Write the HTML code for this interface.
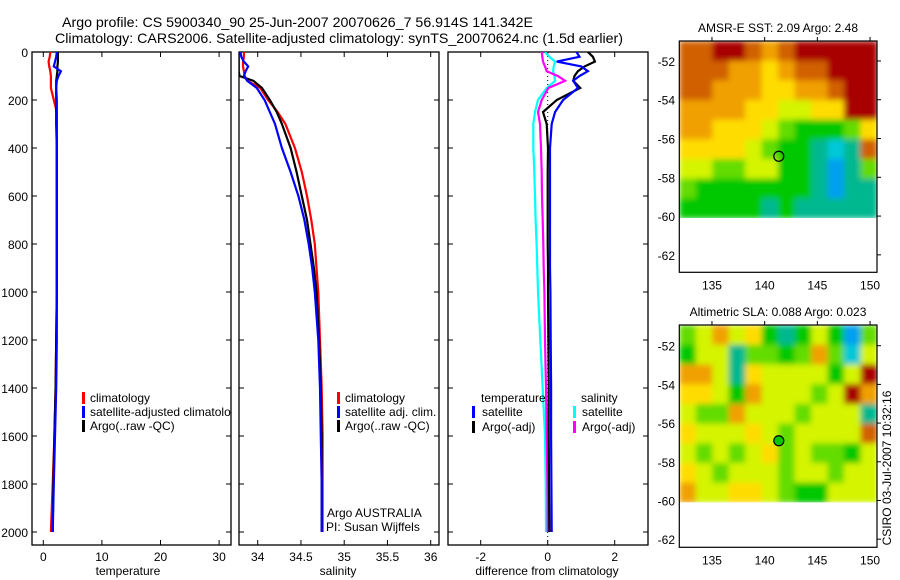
<!DOCTYPE html>
<html><head><meta charset="utf-8"><style>
html,body{margin:0;padding:0;background:#fff;}
svg{display:block;font-family:"Liberation Sans",sans-serif;}
</style></head><body>
<svg id="fig" width="900" height="580" viewBox="0 0 900 580" xmlns="http://www.w3.org/2000/svg">
<text x="62" y="27" font-size="14" textLength="471" lengthAdjust="spacingAndGlyphs">Argo profile: CS 5900340_90 25-Jun-2007 20070626_7 56.914S 141.342E</text>
<text x="55" y="43" font-size="14" textLength="568" lengthAdjust="spacingAndGlyphs">Climatology: CARS2006. Satellite-adjusted climatology: synTS_20070624.nc (1.5d earlier)</text>
<g id="g"></g>
</svg>
<script>
// ---------- DATA ----------
const depths = [0,20,40,60,80,100,120,150,200,250,300,400,500,600,700,800,900,1000,1200,1400,1600,1800,2000];
const tempClim = [1.2,1.1,0.9,1.0,1.2,1.3,1.3,1.3,1.8,2.3,2.3,2.3,2.3,2.3,2.3,2.3,2.3,2.3,2.2,2.1,1.9,1.6,1.3];
const tempSat  = [2.3,2.2,2.0,1.8,3.0,2.6,2.3,2.2,2.3,2.3,2.3,2.3,2.3,2.3,2.3,2.3,2.3,2.3,2.3,2.2,2.0,1.8,1.6];
const tempArgo = [2.5,2.5,2.5,2.4,2.4,2.3,2.2,2.2,2.2,2.2,2.2,2.3,2.3,2.3,2.3,2.3,2.3,2.3,2.2,2.1,1.9,1.7,1.6];
const salClim = [33.84,33.84,33.83,33.83,33.84,33.85,33.88,34.03,34.12,34.23,34.32,34.43,34.51,34.57,34.62,34.66,34.68,34.70,34.72,34.74,34.75,34.75,34.75];
const salSat  = [33.80,33.81,33.84,33.89,33.86,33.84,33.88,33.99,34.08,34.14,34.20,34.28,34.38,34.47,34.54,34.59,34.63,34.66,34.70,34.72,34.73,34.74,34.74];
const salArgo = [33.78,33.78,33.78,33.78,33.78,33.79,33.95,34.05,34.14,34.22,34.28,34.38,34.45,34.51,34.57,34.61,34.65,34.68,34.71,34.73,34.74,34.74,34.74];
const dTsat  = [0.86,0.95,0.27,1.00,1.20,0.95,0.76,0.90,0.46,0.22,0.12,0.07,0.07,0.07,0.07,0.07,0.07,0.08,0.09,0.10,0.10,0.11,0.12];
const dTargo = [1.20,1.35,1.41,1.10,0.90,0.80,0.76,0.97,0.27,-0.14,-0.03,0.01,0.00,0.00,0.00,0.00,0.01,0.01,0.02,0.03,0.03,0.04,0.05];
const dSsat  = [-0.08,0.05,0.22,0.18,0.16,0.20,0.22,-0.03,-0.29,-0.38,-0.43,-0.43,-0.40,-0.38,-0.36,-0.33,-0.31,-0.29,-0.22,-0.15,-0.08,-0.06,-0.05];
const dSargo = [-0.18,-0.16,-0.14,-0.08,-0.03,0.30,0.52,0.02,-0.18,-0.29,-0.23,-0.20,-0.18,-0.17,-0.15,-0.13,-0.12,-0.10,-0.08,-0.05,-0.03,-0.01,0.00];
const depthTicks = [0,200,400,600,800,1000,1200,1400,1600,1800,2000];
const tempTicks = [0,10,20,30];
const salTicks = [34,34.5,35,35.5,36];
const salTickLabels = ["34","34.5","35","35.5","36"];
const diffTicks = [-2,0,2];
const lonTicks = [135,140,145,150];
const latTicks = [-52,-54,-56,-58,-60,-62];
const argoLon = 141.342, argoLat = -56.914;
// map grids (colour index 0..10), rows north->south from -51 to -60.1
const sstGrid = [
[9,9,10,10,9,8,9,10,10,10,10,10],
[9,9,9,8,8,7,8,9,9,10,10,10],
[9,9,8,8,8,7,7,8,8,9,10,10],
[8,8,8,8,7,7,6,6,7,7,10,10],
[8,8,7,7,7,6,5,4,4,4,5,7],
[7,7,7,7,6,5,4,4,3,2,3,9],
[6,6,5,5,6,6,4,4,3,1,3,5],
[5,4,4,4,4,4,4,4,3,1,3,3],
[4,4,4,4,4,3,4,3,3,3,3,3]];
const slaGrid = [
[5,6,8,6,7,4,3,4,6,4,1,5],
[4,6,6,3,5,5,4,5,8,5,2,6],
[8,8,6,3,7,6,6,6,6,4,6,10],
[7,7,6,4,8,6,6,6,5,6,10,8],
[6,5,5,8,6,6,6,5,6,6,6,3],
[7,6,6,6,7,6,5,6,6,6,6,9],
[6,5,6,5,6,7,5,6,5,5,4,6],
[7,6,5,6,6,6,5,6,6,5,6,6],
[8,6,6,7,7,6,5,4,4,6,6,6]];
const palette = ["#0080ff","#00a0f0","#00c8d8","#00b890","#00c800","#64dc00","#d4f400","#ffdc00","#f0a000","#d06000","#a80000"];

// ---------- HELPERS ----------
const NS="http://www.w3.org/2000/svg";
const G=document.getElementById('g');
function mk(tag,attrs,parent){const e=document.createElementNS(NS,tag);for(const k in attrs)e.setAttribute(k,attrs[k]);(parent||G).appendChild(e);return e;}
const yD = d => 52 + d*0.24;
const PT=52, PB=545;
function panel(name,x0,x1){
  const r=mk('rect',{x:x0,y:PT,width:x1-x0,height:PB-PT,fill:'#fff',stroke:'#000','stroke-width':1.3});
  
  
  depthTicks.forEach(d=>{mk('line',{x1:x0,x2:x0+5,y1:yD(d),y2:yD(d),stroke:'#000'});mk('line',{x1:x1-5,x2:x1,y1:yD(d),y2:yD(d),stroke:'#000'});});
}
function xTicks(xs,fx,labels){
  xs.forEach((v,i)=>{const x=fx(v);mk('line',{x1:x,x2:x,y1:PT,y2:PT+5,stroke:'#000'});mk('line',{x1:x,x2:x,y1:PB-5,y2:PB,stroke:'#000'});
    const t=mk('text',{x:x,y:561,'font-size':12,'text-anchor':'middle'});t.textContent=labels[i];
    
    });
}
function line(vals,fx,color,name,clipId){
  const pts=vals.map((v,i)=>fx(v).toFixed(1)+','+yD(depths[i]).toFixed(1)).join(' ');
  const p=mk('polyline',{points:pts,fill:'none',stroke:color,'stroke-width':2.2});
  if(clipId)p.setAttribute('clip-path','url(#'+clipId+')');
  
  
}
function txt(s,x,y,name,extra){const t=mk('text',Object.assign({x:x,y:y,'font-size':12},extra||{}));t.textContent=s;
  
  return t;}
function legBar(x,y,color,name){const r=mk('rect',{x:x,y:y-10,width:3,height:12,fill:color});
  
  }

// clip for panels
const defs=mk('defs',{});
[['c1',32,231],['c2',239,439],['c3',448,648]].forEach(c=>{const cp=mk('clipPath',{id:c[0]},defs);mk('rect',{x:c[1],y:PT,width:c[2]-c[1],height:PB-PT},cp);});
const flt=mk('filter',{id:'smooth',x:'-5%',y:'-5%',width:'110%',height:'110%'},defs);
mk('feGaussianBlur',{stdDeviation:3,edgeMode:'duplicate'},flt);

// ---------- PANEL 1: temperature ----------
const fT = v => 43.3 + v*5.86;
panel('temperature-panel',32,231);
depthTicks.forEach(d=>{txt(String(d),28,yD(d)+5,'y-tick-label',{'text-anchor':'end'});});
xTicks(tempTicks,fT,tempTicks.map(String));
line(tempClim,fT,'#ff0000','temp-climatology-line','c1');
line(tempArgo,fT,'#000000','temp-argo-line','c1');
line(tempSat,fT,'#0000ff','temp-satellite-line','c1');
legBar(82,402,'#ff0000','legend-climatology-swatch');txt('climatology',90,402,'legend-climatology');
legBar(82,416,'#0000ff','legend-satellite-swatch');
const lt=txt('satellite-adjusted climatology',90,416,'legend-satellite-adjusted');lt.setAttribute('clip-path','url(#c1)');
legBar(82,430,'#000000','legend-argo-swatch');txt('Argo(..raw -QC)',90,430,'legend-argo');
txt('temperature',128,575,'x-axis-title-temperature',{'text-anchor':'middle'});

// ---------- PANEL 2: salinity ----------
const fS = v => 257.7 + (v-34)*86.5;
panel('salinity-panel',239,439);
xTicks(salTicks,fS,salTickLabels);
line(salClim,fS,'#ff0000','sal-climatology-line','c2');
line(salArgo,fS,'#000000','sal-argo-line','c2');
line(salSat,fS,'#0000ff','sal-satellite-line','c2');
legBar(337,402,'#ff0000','legend-sal-climatology-swatch');txt('climatology',345,402,'legend-sal-climatology');
legBar(337,416,'#0000ff','legend-sal-satellite-swatch');txt('satellite adj. clim.',345,416,'legend-sal-satellite');
legBar(337,430,'#000000','legend-sal-argo-swatch');txt('Argo(..raw -QC)',345,430,'legend-sal-argo');
txt('Argo AUSTRALIA',327,517,'credit-argo-australia');
txt('PI: Susan Wijffels',326,531,'credit-pi');
txt('salinity',338,575,'x-axis-title-salinity',{'text-anchor':'middle'});

// ---------- PANEL 3: differences ----------
const fD = v => 547.7 + v*33.5;
panel('difference-panel',448,648);
xTicks(diffTicks,fD,diffTicks.map(String));
const zl=mk('line',{x1:fD(0),x2:fD(0),y1:PT,y2:PB,stroke:'#000','stroke-dasharray':'1,3'});


line(dSsat,fD,'#00ffff','diff-sal-satellite-line','c3');
line(dSargo,fD,'#ff00ff','diff-sal-argo-line','c3');
line(dTargo,fD,'#000000','diff-temp-argo-line','c3');
line(dTsat,fD,'#0000ff','diff-temp-satellite-line','c3');
txt('temperature',481,402,'legend-temperature-heading');
legBar(472,416,'#0000ff','legend-dt-satellite-swatch');txt('satellite',482,416,'legend-dt-satellite');
legBar(472,431,'#000000','legend-dt-argo-swatch');txt('Argo(-adj)',482,431,'legend-dt-argo');
txt('salinity',581,402,'legend-salinity-heading');
legBar(573,416,'#00ffff','legend-ds-satellite-swatch');txt('satellite',582,416,'legend-ds-satellite');
legBar(573,431,'#ff00ff','legend-ds-argo-swatch');txt('Argo(-adj)',582,431,'legend-ds-argo');
txt('difference from climatology',547,575,'x-axis-title-difference',{'text-anchor':'middle'});

// ---------- MAPS ----------
function map(name,grid,top,bottom,latTop,latBot,title,titleY){
  const L=679.3,R=877, lonL=131.9, lonR=150.66;
  const fx=lon=>L+(lon-lonL)*(R-L)/(lonR-lonL);
  const fy=lat=>top+(latTop-lat)*(bottom-top)/(latTop-latBot);
  const rows=grid.length, cols=grid[0].length;
  const latS=-60.1, latN=latTop;
  const cw=(lonR-lonL)/cols, ch=(latN-latS)/rows;
  const cp=mk('clipPath',{id:name+'-clip'},defs);
  mk('rect',{x:L,y:top,width:R-L,height:fy(latS)-top},cp);
  const outer=mk('g',{'clip-path':'url(#'+name+'-clip)'});
  const inner=mk('g',{filter:'url(#smooth)'},outer);
  
  
  grid.forEach((row,i)=>row.forEach((v,j)=>{
    const x=fx(lonL+j*cw), y=fy(latN-i*ch);
    const c=mk('rect',{x:x.toFixed(1),y:y.toFixed(1),width:(fx(lonL+(j+1)*cw)-x+0.6).toFixed(1),height:(fy(latN-(i+1)*ch)-y+0.6).toFixed(1),fill:palette[v]},inner);
    
    
  }));
  const fr=mk('rect',{x:L,y:top,width:R-L,height:bottom-top,fill:'none',stroke:'#000','stroke-width':1.2});
  
  
  lonTicks.forEach(lon=>{const x=fx(lon);mk('line',{x1:x,x2:x,y1:top-4,y2:top,stroke:'#000'});
    txt(String(lon),x,bottom+17,name+'-lon-label',{'text-anchor':'middle'});});
  latTicks.forEach(lat=>{const y=fy(lat);mk('line',{x1:R,x2:R+4,y1:y,y2:y,stroke:'#000'});
    txt(String(lat),675,y+5,name+'-lat-label',{'text-anchor':'end'});});
  const c=mk('circle',{cx:fx(argoLon),cy:fy(argoLat),r:5,fill:name==='sla-map'?'#00c800':'none',stroke:'#000','stroke-width':1.2});
  
  
  txt(title,778,titleY,name+'-title',{'text-anchor':'middle'});
}
map('sst-map',sstGrid,41,272.3,-50.97,-62.9,'AMSR-E SST: 2.09  Argo: 2.48',32);
map('sla-map',slaGrid,325,547.3,-50.93,-62.42,'Altimetric SLA: 0.088  Argo: 0.023',316);
txt('CSIRO 03-Jul-2007 10:32:16',0,0,'timestamp-label',{transform:'translate(891,468) rotate(-90)','text-anchor':'middle'});
</script>
</body></html>
